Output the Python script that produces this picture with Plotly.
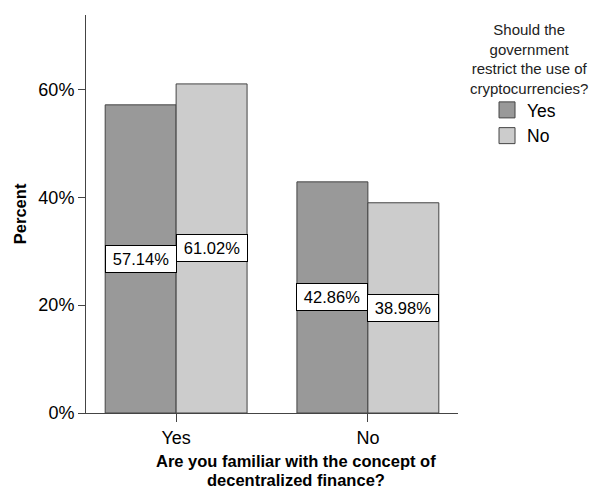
import plotly.graph_objects as go

categories = ["Yes", "No"]
series_names = ["Yes", "No"]
values_yes = [57.14, 42.86]
values_no = [61.02, 38.98]
label_yes = ["57.14%", "42.86%"]
label_no = ["61.02%", "38.98%"]
y_ticks = [0, 20, 40, 60]
y_tick_labels = ["0%", "20%", "40%", "60%"]
x_title_lines = ["Are you familiar with the concept of", "decentralized finance?"]
legend_title_lines = ["Should the", "government", "restrict the use of", "cryptocurrencies?"]

FONT = "Liberation Sans, Arial, sans-serif"
colors = ["#999999", "#cccccc"]
edge = "#444444"

fig = go.Figure()
for name, vals, col in zip(series_names, [values_yes, values_no], colors):
    fig.add_trace(go.Bar(
        x=categories, y=vals, name=name, showlegend=False,
        marker=dict(color=col, line=dict(color=edge, width=1)),
    ))
# legend entries (no data, legend swatches only)
for name, col in zip(series_names, colors):
    fig.add_trace(go.Scatter(
        x=[None], y=[None], mode="markers", name=name,
        marker=dict(symbol="square", size=16, color=col, line=dict(color=edge, width=1)),
    ))

offset = 0.185
for i, cat in enumerate(categories):
    for vals, labs, sgn in [(values_yes, label_yes, -1), (values_no, label_no, 1)]:
        fig.add_annotation(
            x=i + sgn * offset, y=vals[i] / 2, xref="x", yref="y",
            text=labs[i], showarrow=False, width=62,
            font=dict(family=FONT, size=16.5, color="black"),
            bgcolor="white", bordercolor="black", borderwidth=1, borderpad=4,
        )

# Y axis title
fig.add_annotation(
    x=-0.177, y=0.5, xref="paper", yref="paper", text="<b>Percent</b>",
    textangle=-90, showarrow=False, xanchor="center", yanchor="middle",
    font=dict(family=FONT, size=16.5, color="black"),
)
# X axis title (two lines, tight spacing)
for line, yy in zip(x_title_lines, [-0.1206, -0.1683]):
    fig.add_annotation(
        x=0.565, y=yy, xref="paper", yref="paper", text="<b>" + line + "</b>",
        showarrow=False, xanchor="center", yanchor="middle",
        font=dict(family=FONT, size=16.5, color="black"),
    )
# Legend title
fig.add_annotation(
    x=1.191, y=0.99, xref="paper", yref="paper",
    text="<br>".join(legend_title_lines),
    showarrow=False, xanchor="center", yanchor="top", align="center",
    font=dict(family=FONT, size=15, color="#222222"),
)

fig.update_layout(
    width=589, height=480,
    margin=dict(l=78, r=139, t=7, b=75),
    paper_bgcolor="white", plot_bgcolor="white",
    barmode="group", bargap=0.26, bargroupgap=0,
    font=dict(family=FONT, size=18, color="black"),
    showlegend=True,
    legend=dict(
        x=1.078, y=0.8065, xanchor="left", yanchor="top",
        font=dict(family=FONT, size=17.5, color="black"),
        itemwidth=30, bgcolor="rgba(0,0,0,0)",
    ),
    xaxis=dict(
        range=[-0.47, 1.47], showline=True, linecolor=edge, linewidth=1,
        ticks="outside", ticklen=8, tickcolor=edge, showgrid=False,
        tickfont=dict(family=FONT, size=18, color="black"),
    ),
    yaxis=dict(
        range=[0, 73.8], showline=True, linecolor=edge, linewidth=1,
        ticks="outside", ticklen=7, tickcolor=edge, showgrid=False,
        tickvals=y_ticks, ticktext=y_tick_labels, zeroline=False,
        tickfont=dict(family=FONT, size=18, color="black"),
    ),
)

fig.write_html("out.html")
